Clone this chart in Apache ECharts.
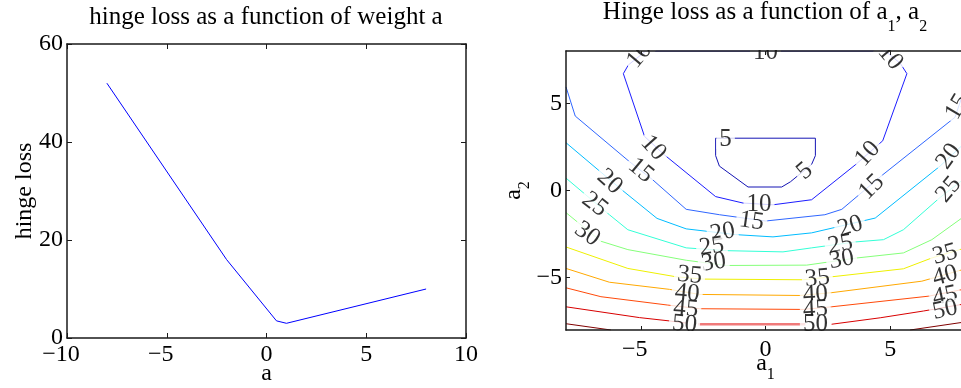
<!DOCTYPE html>
<html>
<head>
<meta charset="utf-8">
<script src="https://cdn.jsdelivr.net/npm/echarts@6/dist/echarts.min.js"></script>
<style>
  html, body { margin: 0; padding: 0; background: #fff; }
  #chart { width: 961px; height: 388px; }
</style>
</head>
<body>
<div id="chart"></div>
<script>
// left panel: hinge loss against a single weight
var weightA = [-8, -2, 0.5, 1, 8];
var lossA = [52, 16, 3.5, 3, 10];

// right panel: contour lines [a1, a2], each level a list of polylines
var level5 = [[[-2, 3], [2, 3], [2, 2], [1.85, 1.5], [1, 0.5], [0.65, 0.2], [-0.7, 0.2], [-1.85, 1.4], [-2, 2], [-2, 3]]];
var level10 = [[[-4.8, 8], [-5.5, 7.2], [-5.7, 6.7], [-4.85, 3.1], [-4.05, 2.04], [-2, -0.35], [-0.9, -0.72], [0.3, -0.82],
  [1.85, -0.53], [3.6, 1.47], [4.5, 2.6], [4.7, 2.85], [5.67, 6.7], [5.4, 7.3], [4.8, 8], [-4.8, 8]]];
var level15 = [[[-8, 5.94], [-7.63, 4.27], [-5.46, 1.66], [-4.52, 0.61], [-3.18, -1.08], [-1.84, -1.39], [0, -1.75],
  [2.38, -1.39], [3.06, -1.08], [4.7, 0.9], [7.6, 4.2], [8, 5.9]]];
var level20 = [[[-8, 2.74], [-5.73, 0], [-4.35, -1.6], [-3.18, -2.2], [-1.2, -2.53], [0.3, -2.66], [1.85, -2.43],
  [4.4, -1.58], [7, 1.4], [8, 2.74]]];
var level25 = [[[-8, 0.71], [-6.26, -1.39], [-5.52, -2.25], [-3.18, -3.29], [-1.57, -3.45], [0.7, -3.52], [1.85, -3.29],
  [3.6, -2.95], [4.73, -2.82], [5.53, -2.25], [7, -0.4], [8, 0.71]]];
var level30 = [[[-8, -1.27], [-6.6, -2.91], [-5.52, -3.39], [-3.18, -4.0], [-1.57, -4.3], [1.65, -4.28], [3.66, -3.87],
  [5.53, -3.58], [6.67, -2.82], [8, -1.45]]];
var level35 = [[[-8, -3.24], [-5.52, -4.47], [-3.58, -4.95], [-2.5, -5.08], [1.5, -5.12], [2.65, -4.95], [5.53, -4.49],
  [6.67, -3.87], [8, -3.3]]];
var level40 = [[[-8, -4.47], [-6.26, -5.26], [-3.85, -5.67], [-2.64, -5.96], [1.38, -6.02], [2.65, -5.86], [6.27, -5.2],
  [8, -4.5]]];
var level45 = [[[-8, -5.58], [-6.6, -6.09], [-3.92, -6.57], [-2.64, -6.78], [1.51, -6.82], [2.65, -6.67], [6.54, -6.06],
  [8, -5.65]]];
var level50 = [[[-8, -6.67], [-5.05, -7.29], [-3.85, -7.48], [-3.2, -7.6]],
  [[2.65, -7.67], [4.6, -7.3], [6.34, -6.91], [8, -6.5]]];
var level50mid = [[[-2.7, -7.67], [1.6, -7.67]]];
var level55 = [[[-8, -7.64], [-6.2, -8]], [[5.8, -8], [8, -7.54]]];

var contourLevels = [
  [level5, '#1414b4'], [level10, '#1c1cff'], [level15, '#2f66ff'], [level20, '#00bcff'], [level25, '#33ffd6'],
  [level30, '#85ff7a'], [level35, '#eef000'], [level40, '#ffa800'], [level45, '#ff4a0a'], [level50, '#d80000'],
  [level55, '#800000']
];

// inline contour labels: a1, a2, text, angle
var contourLabels = [
  [-5.05, 7.75, '10', 50], [0, 7.93, '10', 0], [5.0, 7.64, '10', -50],
  [-4.5, 2.45, '10', -48], [-5.0, 1.15, '15', -40], [-6.25, 0.5, '20', -42], [-6.85, -0.8, '25', -38],
  [-7.15, -2.5, '30', -35], [-1.6, 2.93, '5', 0], [1.58, 1.1, '5', 40],
  [-0.26, -0.82, '10', 0], [-0.56, -1.77, '15', -8], [-1.72, -2.41, '20', 10], [-2.16, -3.23, '25', 8],
  [-2.08, -4.13, '30', 8], [-3.04, -4.87, '35', -5], [-3.14, -5.9, '40', -5], [-3.2, -6.8, '45', -5],
  [-3.25, -7.67, '50', -5],
  [3.4, -2.06, '20', 18], [3.0, -3.1, '25', 10], [3.05, -3.96, '30', 10], [2.08, -5.05, '35', 5],
  [2.0, -5.96, '40', 3], [2.0, -6.82, '45', 3], [2.0, -7.67, '50', 0],
  [4.1, 2.1, '10', 48], [4.26, 0.2, '15', 45], [7.7, 4.8, '15', 60], [7.35, 1.95, '20', 55],
  [7.35, 0.05, '25', 50], [7.2, -3.67, '35', 15], [7.2, -4.9, '40', 15], [7.2, -6.05, '45', 12],
  [7.2, -6.85, '50', 12]
];

var rightTicks = [-5, 0, 5];

var FONT = 'Liberation Serif';
var chart = echarts.init(document.getElementById('chart'));

function xFmt(v) {
  return v < 0 ? '\u2212' + Math.abs(v) + '\u2002' : String(v);
}
function yFmt(v) {
  return v < 0 ? '\u2212' + Math.abs(v) : String(v);
}

function axisBase(grid, pos, min, max, showLabel, tickLen) {
  return {
    type: 'value', gridIndex: grid, position: pos, min: min, max: max,
    nameMoveOverlap: false,
    axisLine: { show: true, onZero: false, lineStyle: { color: '#1a1a1a', width: 1.5 } },
    axisTick: { show: true, inside: true, length: tickLen, lineStyle: { color: '#1a1a1a', width: 1 } },
    splitLine: { show: false },
    axisLabel: { show: showLabel, color: '#000', fontFamily: FONT, fontSize: 24 }
  };
}

var subRich = {
  a: { fontFamily: FONT, fontSize: 24, verticalAlign: 'top', lineHeight: 26, color: '#000' },
  s: { fontFamily: FONT, fontSize: 16, verticalAlign: 'top', lineHeight: 16, padding: [15, 0, 0, 0], color: '#000' }
};

var xAxes = [];
var yAxes = [];
// left panel
var xl = axisBase(0, 'bottom', -10, 10, true, 5);
xl.interval = 5;
xl.axisLabel.formatter = xFmt;
xl.axisLabel.margin = 5;
xl.name = 'a';
xl.nameLocation = 'middle';
xl.nameGap = 24;
xl.nameTextStyle = { fontFamily: FONT, fontSize: 24, color: '#000' };
xAxes.push(xl);
var xlt = axisBase(0, 'top', -10, 10, false, 5);
xlt.interval = 5;
xAxes.push(xlt);
var yl = axisBase(0, 'left', 0, 60, true, 5);
yl.interval = 20;
yl.axisLabel.margin = 4;
yl.name = 'hinge loss';
yl.nameLocation = 'middle';
yl.nameGap = 30;
yl.nameTextStyle = { fontFamily: FONT, fontSize: 24, color: '#000' };
yAxes.push(yl);
var ylr = axisBase(0, 'right', 0, 60, false, 5);
ylr.interval = 20;
yAxes.push(ylr);

// right panel
var xr = axisBase(1, 'bottom', -8, 8, true, 4);
xr.z = 150;
xr.axisTick.customValues = rightTicks;
xr.axisLabel.customValues = rightTicks;
xr.axisLabel.formatter = xFmt;
xr.axisLabel.margin = 8;
xr.name = '{a|a}{s|1}';
xr.nameLocation = 'middle';
xr.nameGap = 22;
xr.nameTextStyle = { fontFamily: FONT, fontSize: 24, color: '#000', rich: subRich };
xAxes.push(xr);
var xrt = axisBase(1, 'top', -8, 8, false, 4);
xrt.z = 150;
xrt.axisTick.customValues = rightTicks;
xAxes.push(xrt);
var yr = axisBase(1, 'left', -8, 8, true, 4);
yr.z = 150;
yr.axisTick.customValues = rightTicks;
yr.axisLabel.customValues = rightTicks;
yr.axisLabel.formatter = yFmt;
yr.axisLabel.margin = 4;
yr.name = '{a|a}{s|2}';
yr.nameLocation = 'middle';
yr.nameGap = 38;
yr.nameTextStyle = { fontFamily: FONT, fontSize: 24, color: '#000', rich: subRich };
yAxes.push(yr);
var yrr = axisBase(1, 'right', -8, 8, false, 4);
yrr.z = 150;
yrr.axisTick.customValues = rightTicks;
yAxes.push(yrr);

var series = [];
series.push({
  type: 'line', xAxisIndex: 0, yAxisIndex: 0, symbol: 'none', animation: false,
  lineStyle: { color: '#0000ff', width: 1 },
  data: weightA.map(function (a, i) { return [a, lossA[i]]; })
});

contourLevels.forEach(function (lv) {
  lv[0].forEach(function (path) {
    series.push({
      type: 'line', xAxisIndex: 2, yAxisIndex: 2, symbol: 'none', animation: false,
      lineStyle: { color: lv[1], width: 1 }, data: path
    });
  });
});
level50mid.forEach(function (path) {
  series.push({
    type: 'line', xAxisIndex: 2, yAxisIndex: 2, symbol: 'none', animation: false,
    lineStyle: { color: '#f07a7a', width: 2.5 }, data: path
  });
});

series.push({
  type: 'scatter', xAxisIndex: 2, yAxisIndex: 2, z: 5, animation: false,
  symbolSize: 1, itemStyle: { color: 'rgba(0,0,0,0)' },
  label: {
    show: true, position: 'inside', color: '#000', formatter: '{b}',
    fontFamily: FONT, fontSize: 25, lineHeight: 17,
    backgroundColor: '#fff', padding: [1, 3]
  },
  data: contourLabels.map(function (l) {
    return { name: l[2], value: [l[0], l[1]], label: { rotate: l[3] } };
  })
});

var titleRich = {
  t: { fontFamily: FONT, fontSize: 25, lineHeight: 28, verticalAlign: 'top', fill: '#000' },
  s: { fontFamily: FONT, fontSize: 16, lineHeight: 16, verticalAlign: 'top', padding: [19, 0, 0, 0], fill: '#000' }
};

chart.setOption({
  animation: false,
  backgroundColor: '#fff',
  textStyle: { fontFamily: FONT },
  grid: [
    { left: 67, top: 44, right: 495, bottom: 50, outerBoundsMode: 'none', containLabel: false },
    { left: 566, top: 51, width: 399, height: 279, outerBoundsMode: 'none', containLabel: false }
  ],
  xAxis: xAxes,
  yAxis: yAxes,
  series: series,
  graphic: [
    { type: 'rect', z: 100, silent: true, shape: { x: 567, y: 34, width: 400, height: 16 }, style: { fill: '#fff' } },
    { type: 'rect', z: 100, silent: true, shape: { x: 567, y: 331, width: 400, height: 10 }, style: { fill: '#fff' } },
    {
      type: 'text', z: 200, x: 266, y: 5,
      style: { text: 'hinge loss as a function of weight a', fontFamily: FONT, fontSize: 25, fill: '#000', align: 'center', verticalAlign: 'top' }
    },
    {
      type: 'text', z: 200, x: 765, y: 0,
      style: {
        text: '{t|Hinge loss as a function of a}{s|1}{t|, a}{s|2}', align: 'center', verticalAlign: 'top',
        fontFamily: FONT, fontSize: 25, fill: '#000', rich: titleRich
      }
    }
  ]
});
</script>
</body>
</html>
